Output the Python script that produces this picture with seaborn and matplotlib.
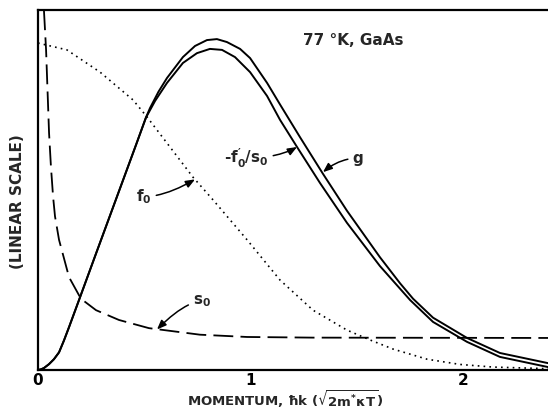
import matplotlib
matplotlib.use("Agg")
import matplotlib.pyplot as plt
import seaborn as sns

# Momentum axis in units of sqrt(2 m* kT); ordinates on a common linear scale
rise_k = [0.0, 0.014, 0.028, 0.052, 0.075, 0.099, 0.122, 0.146, 0.193, 0.273, 0.367,
          0.461, 0.508]
rise_v = [0.0, 0.002, 0.006, 0.018, 0.033, 0.054, 0.090, 0.131, 0.214, 0.356, 0.522,
          0.688, 0.772]

g_k = [0.527, 0.567, 0.607, 0.682, 0.739, 0.795, 0.842, 0.889, 0.951, 0.998, 1.078,
       1.139, 1.233, 1.341, 1.454, 1.609, 1.704, 1.765, 1.859, 2.019, 2.174, 2.4]
g_v = [0.801, 0.851, 0.893, 0.957, 0.991, 1.009, 1.012, 1.003, 0.982, 0.954, 0.878,
       0.812, 0.712, 0.600, 0.487, 0.345, 0.265, 0.218, 0.160, 0.098, 0.052, 0.021]

fs_k = [0.551, 0.607, 0.682, 0.748, 0.809, 0.866, 0.927, 0.998, 1.078, 1.139, 1.219,
        1.327, 1.454, 1.609, 1.751, 1.859, 2.019, 2.174, 2.4]
fs_v = [0.823, 0.878, 0.939, 0.969, 0.982, 0.979, 0.957, 0.911, 0.838, 0.765, 0.682,
        0.572, 0.450, 0.318, 0.214, 0.147, 0.086, 0.040, 0.009]

f0_k = [0.0, 0.136, 0.292, 0.447, 0.513, 0.607, 0.729, 0.824, 0.984, 1.139, 1.294,
        1.454, 1.562, 1.671, 1.831, 1.986, 2.141, 2.4]
f0_v = [1.0, 0.979, 0.911, 0.826, 0.774, 0.694, 0.590, 0.520, 0.398, 0.275, 0.183,
        0.122, 0.092, 0.064, 0.033, 0.017, 0.009, 0.004]

s0_k = [0.028, 0.038, 0.052, 0.061, 0.071, 0.080, 0.099, 0.146, 0.202, 0.273, 0.381,
        0.522, 0.762, 0.984, 1.294, 2.4]
s0_v = [1.10, 0.979, 0.725, 0.621, 0.530, 0.470, 0.398, 0.284, 0.218, 0.183, 0.153,
        0.128, 0.108, 0.101, 0.099, 0.098]

x_ticks = [0, 1, 2]
x_tick_labels = ["0", "1", "2"]
y_ticks = [0.5, 1.0]

sns.set_style("white")
plt.rcParams["font.family"] = ["DejaVu Sans"]
plt.rcParams["font.weight"] = "bold"
plt.rcParams["mathtext.default"] = "regular"

fig = plt.figure(figsize=(5.48, 4.12), dpi=100)
ax = fig.add_axes([38 / 548, 42 / 412, 510 / 548, 360 / 412])

solid = dict(color="black", linewidth=1.4, sort=False, estimator=None)
sns.lineplot(x=rise_k + g_k, y=rise_v + g_v, ax=ax, **solid)
sns.lineplot(x=rise_k + fs_k, y=rise_v + fs_v, ax=ax, **solid)
sns.lineplot(x=f0_k, y=f0_v, ax=ax, color="black", linewidth=1.2,
             linestyle=(0, (1, 2.5)), sort=False, estimator=None)
sns.lineplot(x=s0_k, y=s0_v, ax=ax, color="black", linewidth=1.3,
             linestyle=(0, (11, 4)), sort=False, estimator=None)

ax.set_xlim(0, 2.4)
ax.set_ylim(0, 1.101)

for side in ["left", "bottom", "top"]:
    ax.spines[side].set_linewidth(1.6)
    ax.spines[side].set_color("black")
ax.spines["right"].set_visible(False)

ax.set_xticks(x_ticks)
ax.set_xticklabels(x_tick_labels)
ax.set_yticks(y_ticks)
ax.set_yticklabels([])
ax.tick_params(axis="x", direction="in", length=12, width=1.2, pad=2,
               labelsize=11, colors="black")
ax.tick_params(axis="y", direction="in", length=11, width=1.2, colors="black")
for lab in ax.get_xticklabels():
    lab.set_fontweight("bold")

ax.set_xlabel(r"MOMENTUM, $\hbar$k ($\sqrt{2m^{*}\kappa T}$)", fontsize=9.5,
              fontweight="bold", va="center")
ax.xaxis.set_label_coords((285 - 38) / 510, -0.082)
ax.set_ylabel("(LINEAR SCALE)", fontsize=11, fontweight="bold")
ax.yaxis.set_label_coords(-0.025, 0.467)

ax.text(1.247, 1.009, "77 °K, GaAs", fontsize=11, fontweight="bold",
        ha="left", va="center")

arrow = dict(arrowstyle="-|>,head_length=0.5,head_width=0.2", color="black",
             linewidth=1.1, shrinkA=1, shrinkB=0)
ax.annotate(r"-$f_0^{\prime}/s_0$", xy=(1.219, 0.682), xytext=(1.085, 0.648),
            fontsize=11, fontweight="bold", ha="right", va="center",
            arrowprops=dict(connectionstyle="angle3,angleA=0,angleB=30", **arrow))
ax.annotate("g", xy=(1.341, 0.605), xytext=(1.48, 0.648),
            fontsize=11, fontweight="bold", ha="left", va="center",
            arrowprops=dict(connectionstyle="angle3,angleA=0,angleB=40", **arrow))
ax.annotate(r"$f_0$", xy=(0.739, 0.583), xytext=(0.461, 0.53),
            fontsize=11, fontweight="bold", ha="left", va="center",
            arrowprops=dict(connectionstyle="angle3,angleA=0,angleB=30", **arrow))
ax.annotate(r"$s_0$", xy=(0.560, 0.124), xytext=(0.729, 0.21),
            fontsize=11, fontweight="bold", ha="left", va="center",
            arrowprops=dict(connectionstyle="angle3,angleA=0,angleB=45", **arrow))

fig.savefig("out.png", dpi=100)
